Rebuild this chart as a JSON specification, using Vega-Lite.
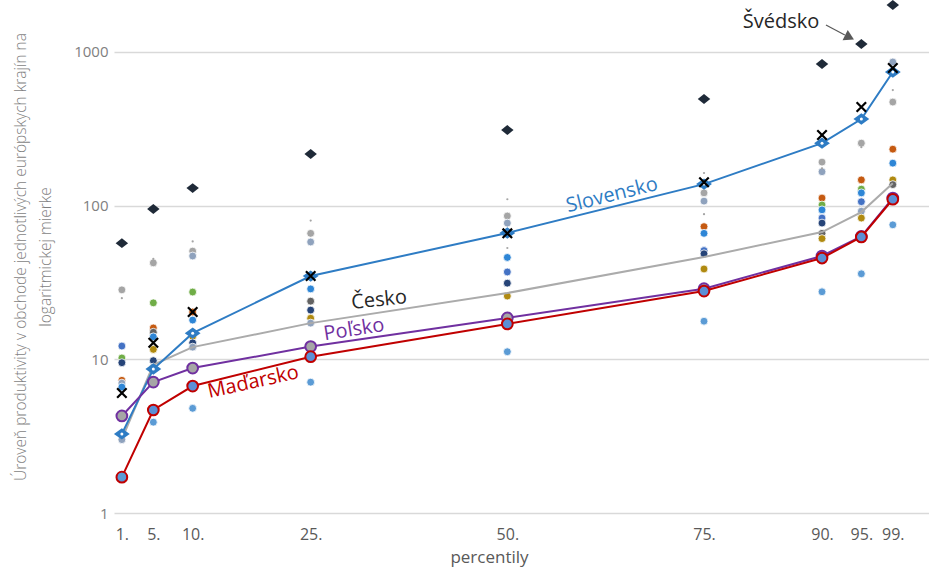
{
  "$schema": "https://vega.github.io/schema/vega-lite/v6.json",
  "width": 815,
  "height": 513,
  "autosize": {"type": "none"},
  "padding": {"left": 114, "top": 0, "right": 0, "bottom": 56},
  "background": "white",
  "config": {"font": "Open Sans", "view": {"stroke": null}},
  "datasets": {
    "hlavne": [
      {"s": "Slovensko", "p": 1, "v": 3.27}, {"s": "Slovensko", "p": 5, "v": 8.65}, {"s": "Slovensko", "p": 10, "v": 14.8}, {"s": "Slovensko", "p": 25, "v": 34.8}, {"s": "Slovensko", "p": 50, "v": 66.4}, {"s": "Slovensko", "p": 75, "v": 138}, {"s": "Slovensko", "p": 90, "v": 255}, {"s": "Slovensko", "p": 95, "v": 366}, {"s": "Slovensko", "p": 99, "v": 740},
      {"s": "Česko", "p": 1, "v": 3.03}, {"s": "Česko", "p": 5, "v": 9.2}, {"s": "Česko", "p": 10, "v": 12.0}, {"s": "Česko", "p": 25, "v": 17.2}, {"s": "Česko", "p": 50, "v": 27}, {"s": "Česko", "p": 75, "v": 46.3}, {"s": "Česko", "p": 90, "v": 67.3}, {"s": "Česko", "p": 95, "v": 90.8}, {"s": "Česko", "p": 99, "v": 140},
      {"s": "Poľsko", "p": 1, "v": 4.28}, {"s": "Poľsko", "p": 5, "v": 7.11}, {"s": "Poľsko", "p": 10, "v": 8.77}, {"s": "Poľsko", "p": 25, "v": 12.1}, {"s": "Poľsko", "p": 50, "v": 18.6}, {"s": "Poľsko", "p": 75, "v": 28.8}, {"s": "Poľsko", "p": 90, "v": 47}, {"s": "Poľsko", "p": 95, "v": 63}, {"s": "Poľsko", "p": 99, "v": 112},
      {"s": "Maďarsko", "p": 1, "v": 1.71}, {"s": "Maďarsko", "p": 5, "v": 4.68}, {"s": "Maďarsko", "p": 10, "v": 6.7}, {"s": "Maďarsko", "p": 25, "v": 10.4}, {"s": "Maďarsko", "p": 50, "v": 17.0}, {"s": "Maďarsko", "p": 75, "v": 27.8}, {"s": "Maďarsko", "p": 90, "v": 45.6}, {"s": "Maďarsko", "p": 95, "v": 62.5}, {"s": "Maďarsko", "p": 99, "v": 110},
      {"s": "X", "p": 1, "v": 6.04}, {"s": "X", "p": 5, "v": 12.8}, {"s": "X", "p": 10, "v": 20.3}, {"s": "X", "p": 25, "v": 34.8}, {"s": "X", "p": 50, "v": 66}, {"s": "X", "p": 75, "v": 142}, {"s": "X", "p": 90, "v": 288}, {"s": "X", "p": 95, "v": 438}, {"s": "X", "p": 99, "v": 785},
      {"s": "Švédsko", "p": 1, "v": 57}, {"s": "Švédsko", "p": 5, "v": 95}, {"s": "Švédsko", "p": 10, "v": 130}, {"s": "Švédsko", "p": 25, "v": 217}, {"s": "Švédsko", "p": 50, "v": 310}, {"s": "Švédsko", "p": 75, "v": 494}, {"s": "Švédsko", "p": 90, "v": 835}, {"s": "Švédsko", "p": 95, "v": 1125}, {"s": "Švédsko", "p": 99, "v": 2020}
    ],
    "ostatne": [
      {"k": "G", "p": 1, "v": 28.3}, {"k": "RB", "p": 1, "v": 12.2}, {"k": "GR", "p": 1, "v": 10.2}, {"k": "NV", "p": 1, "v": 9.5}, {"k": "OR", "p": 1, "v": 7.3}, {"k": "BG", "p": 1, "v": 7.0}, {"k": "BL", "p": 1, "v": 6.6}, {"k": "BG", "p": 1, "v": 3.0}, {"k": "LB", "p": 1, "v": 1.72}, {"k": "T", "p": 1, "v": 25},
      {"k": "G", "p": 5, "v": 42.4}, {"k": "GR", "p": 5, "v": 23.3}, {"k": "OR", "p": 5, "v": 16.0}, {"k": "DG", "p": 5, "v": 15.0}, {"k": "BL", "p": 5, "v": 14.0}, {"k": "GD", "p": 5, "v": 11.6}, {"k": "NV", "p": 5, "v": 9.8}, {"k": "BG", "p": 5, "v": 8.9}, {"k": "LB", "p": 5, "v": 3.9}, {"k": "T", "p": 5, "v": 45},
      {"k": "G", "p": 10, "v": 50.6}, {"k": "BG", "p": 10, "v": 47}, {"k": "GR", "p": 10, "v": 27.4}, {"k": "OR", "p": 10, "v": 20.3}, {"k": "BL", "p": 10, "v": 18.0}, {"k": "GD", "p": 10, "v": 14.1}, {"k": "NV", "p": 10, "v": 12.8}, {"k": "BG", "p": 10, "v": 12.0}, {"k": "LB", "p": 10, "v": 4.8}, {"k": "T", "p": 10, "v": 58.5},
      {"k": "G", "p": 25, "v": 66}, {"k": "BG", "p": 25, "v": 58}, {"k": "GR", "p": 25, "v": 34.8}, {"k": "BL", "p": 25, "v": 28.7}, {"k": "DG", "p": 25, "v": 23.9}, {"k": "NV", "p": 25, "v": 20.9}, {"k": "GD", "p": 25, "v": 18.5}, {"k": "BG", "p": 25, "v": 17.2}, {"k": "LB", "p": 25, "v": 7.1}, {"k": "T", "p": 25, "v": 80},
      {"k": "G", "p": 50, "v": 85.6}, {"k": "BG", "p": 50, "v": 77}, {"k": "BL", "p": 50, "v": 46}, {"k": "RB", "p": 50, "v": 37}, {"k": "NV", "p": 50, "v": 31.3}, {"k": "GD", "p": 50, "v": 25.8}, {"k": "G", "p": 50, "v": 18.6}, {"k": "LB", "p": 50, "v": 11.2}, {"k": "T", "p": 50, "v": 110}, {"k": "T", "p": 50, "v": 53},
      {"k": "G", "p": 75, "v": 121}, {"k": "BG", "p": 75, "v": 107}, {"k": "OR", "p": 75, "v": 73}, {"k": "BL", "p": 75, "v": 66}, {"k": "RB", "p": 75, "v": 51}, {"k": "NV", "p": 75, "v": 48.6}, {"k": "GD", "p": 75, "v": 38.7}, {"k": "LB", "p": 75, "v": 17.7}, {"k": "T", "p": 75, "v": 163}, {"k": "T", "p": 75, "v": 88},
      {"k": "G", "p": 90, "v": 192}, {"k": "BG", "p": 90, "v": 166}, {"k": "OR", "p": 90, "v": 112}, {"k": "GR", "p": 90, "v": 101}, {"k": "BL", "p": 90, "v": 93.8}, {"k": "RB", "p": 90, "v": 83}, {"k": "NV", "p": 90, "v": 77}, {"k": "DG", "p": 90, "v": 66}, {"k": "GD", "p": 90, "v": 61}, {"k": "LB", "p": 90, "v": 27.5}, {"k": "T", "p": 90, "v": 175},
      {"k": "G", "p": 95, "v": 255}, {"k": "OR", "p": 95, "v": 147}, {"k": "GR", "p": 95, "v": 128}, {"k": "BL", "p": 95, "v": 121}, {"k": "RB", "p": 95, "v": 106}, {"k": "BG", "p": 95, "v": 92}, {"k": "GD", "p": 95, "v": 83}, {"k": "LB", "p": 95, "v": 36}, {"k": "T", "p": 95, "v": 240},
      {"k": "BG", "p": 99, "v": 860}, {"k": "G", "p": 99, "v": 472}, {"k": "OR", "p": 99, "v": 233}, {"k": "BL", "p": 99, "v": 189}, {"k": "GD", "p": 99, "v": 147}, {"k": "DG", "p": 99, "v": 137}, {"k": "LB", "p": 99, "v": 75}, {"k": "T", "p": 99, "v": 565}
    ],
    "popisy": [
      {"t": "Slovensko", "p": 63.3, "v": 117},
      {"t": "Česko", "p": 33.7, "v": 24.3},
      {"t": "Poľsko", "p": 30.5, "v": 15.6},
      {"t": "Maďarsko", "p": 17.7, "v": 7.1},
      {"t": "Švédsko", "p": 84.8, "v": 1566}
    ],
    "sipka": [
      {"p": 90.5, "v": 1496, "p2": 92.9, "v2": 1290}
    ],
    "hrot": [
      {"p": 93.5, "v": 1245}
    ]
  },
  "encoding": {
    "x": {
      "field": "p", "type": "quantitative",
      "scale": {"domain": [0, 103.6], "nice": false, "zero": false},
      "axis": {
        "values": [1, 5, 10, 25, 50, 75, 90, 95, 99],
        "labelExpr": "datum.value + '.'",
        "grid": false, "domain": false, "ticks": false,
        "labelFontSize": 16, "labelColor": "#595959", "labelPadding": 13,
        "title": "percentily", "titleFontSize": 17, "titleFontWeight": "normal", "titleColor": "#595959",
        "titleX": 375, "titleY": 36, "titleBaseline": "top"
      }
    },
    "y": {
      "field": "v", "type": "quantitative",
      "scale": {"type": "log", "domain": [1, 2177], "nice": false},
      "axis": {
        "values": [1, 10, 100, 1000],
        "format": "d",
        "grid": true, "gridColor": "#d9d9d9", "gridWidth": 1.5,
        "domain": false, "ticks": false,
        "labelFontSize": 15, "labelColor": "#808080", "labelPadding": 6,
        "title": ["Úroveň produktivity v obchode jednotlivých európskych krajín na", "logaritmickej mierke"],
        "titleFontSize": 15.5, "titleFontWeight": 300, "titleColor": "#7f7f7f", "titlePadding": 20, "titleLineHeight": 25
      }
    }
  },
  "layer": [
    {
      "data": {"name": "ostatne"},
      "transform": [{"filter": "datum.k != 'T'"}],
      "mark": {"type": "point", "shape": "circle", "filled": true, "size": 62, "opacity": 1, "stroke": "white", "strokeWidth": 0.8},
      "encoding": {
        "color": {"field": "k", "type": "nominal", "legend": null,
          "scale": {"domain": ["G", "BG", "GR", "OR", "BL", "RB", "NV", "DG", "GD", "LB"],
                    "range": ["#a5a5a5", "#8fa2bd", "#70ad47", "#c55a11", "#2e86d6", "#4472c4", "#264478", "#636363", "#b08a10", "#5b9bd5"]}}
      }
    },
    {
      "data": {"name": "ostatne"},
      "transform": [{"filter": "datum.k == 'T'"}],
      "mark": {"type": "point", "shape": "circle", "filled": true, "size": 5, "color": "#a5a5a5", "opacity": 1}
    },
    {
      "data": {"name": "hlavne"},
      "transform": [{"filter": "datum.s == 'Česko'"}],
      "mark": {"type": "line", "color": "#ababab", "strokeWidth": 2}
    },
    {
      "data": {"name": "hlavne"},
      "transform": [{"filter": "datum.s == 'Slovensko'"}],
      "mark": {"type": "line", "color": "#2e7cc4", "strokeWidth": 2}
    },
    {
      "data": {"name": "hlavne"},
      "transform": [{"filter": "datum.s == 'Slovensko'"}],
      "mark": {"type": "point", "shape": "M-1,0L0,-0.72L1,0L0,0.72Z", "filled": true, "size": 250, "color": "#2e7cc4", "opacity": 1}
    },
    {
      "data": {"name": "hlavne"},
      "transform": [{"filter": "datum.s == 'Slovensko'"}],
      "mark": {"type": "point", "shape": "circle", "filled": true, "size": 9, "color": "#ffffff", "opacity": 1}
    },
    {
      "data": {"name": "hlavne"},
      "transform": [{"filter": "datum.s == 'Poľsko'"}],
      "mark": {"type": "line", "color": "#7030a0", "strokeWidth": 2, "point": {"filled": true, "fill": "#a6a6a6", "stroke": "#7030a0", "strokeWidth": 2, "size": 115, "opacity": 1}}
    },
    {
      "data": {"name": "hlavne"},
      "transform": [{"filter": "datum.s == 'Maďarsko'"}],
      "mark": {"type": "line", "color": "#c00000", "strokeWidth": 2, "point": {"filled": true, "fill": "#5b8fd6", "stroke": "#c00000", "strokeWidth": 2, "size": 115, "opacity": 1}}
    },
    {
      "data": {"name": "ostatne"},
      "transform": [{"filter": "datum.k == 'LB' && datum.p == 1"}],
      "mark": {"type": "point", "shape": "circle", "filled": true, "size": 62, "color": "#5b9bd5", "opacity": 1}
    },
    {
      "data": {"name": "hlavne"},
      "transform": [{"filter": "datum.s == 'X'"}],
      "mark": {"type": "point", "shape": "M-1,-1L1,1M-1,1L1,-1", "filled": false, "size": 90, "stroke": "#000000", "strokeWidth": 2.2, "opacity": 1}
    },
    {
      "data": {"name": "hlavne"},
      "transform": [{"filter": "datum.s == 'Švédsko'"}],
      "mark": {"type": "point", "shape": "M-1,0L0,-0.8L1,0L0,0.8Z", "filled": true, "size": 155, "color": "#1f2a38", "opacity": 1}
    },
    {
      "data": {"name": "popisy"},
      "transform": [{"filter": "datum.t == 'Slovensko'"}],
      "mark": {"type": "text", "fontSize": 20, "color": "#2e7cc4", "angle": -14, "align": "center", "baseline": "middle"},
      "encoding": {"text": {"field": "t"}}
    },
    {
      "data": {"name": "popisy"},
      "transform": [{"filter": "datum.t == 'Česko'"}],
      "mark": {"type": "text", "fontSize": 20, "color": "#262626", "angle": -6, "align": "center", "baseline": "middle"},
      "encoding": {"text": {"field": "t"}}
    },
    {
      "data": {"name": "popisy"},
      "transform": [{"filter": "datum.t == 'Poľsko'"}],
      "mark": {"type": "text", "fontSize": 20, "color": "#7030a0", "angle": -9, "align": "center", "baseline": "middle"},
      "encoding": {"text": {"field": "t"}}
    },
    {
      "data": {"name": "popisy"},
      "transform": [{"filter": "datum.t == 'Maďarsko'"}],
      "mark": {"type": "text", "fontSize": 20, "color": "#c00000", "angle": -12.5, "align": "center", "baseline": "middle"},
      "encoding": {"text": {"field": "t"}}
    },
    {
      "data": {"name": "popisy"},
      "transform": [{"filter": "datum.t == 'Švédsko'"}],
      "mark": {"type": "text", "fontSize": 20, "color": "#262626", "align": "center", "baseline": "middle"},
      "encoding": {"text": {"field": "t"}}
    },
    {
      "data": {"name": "sipka"},
      "mark": {"type": "rule", "color": "#595959", "strokeWidth": 1.2},
      "encoding": {"x2": {"field": "p2"}, "y2": {"field": "v2"}}
    },
    {
      "data": {"name": "hrot"},
      "mark": {"type": "point", "shape": "triangle-right", "filled": true, "size": 130, "angle": 27, "color": "#595959", "opacity": 1}
    }
  ]
}
